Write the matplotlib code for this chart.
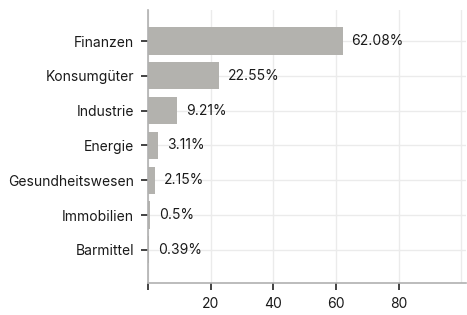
import matplotlib.pyplot as plt

# data
categories = ["Finanzen", "Konsumgüter", "Industrie", "Energie",
              "Gesundheitswesen", "Immobilien", "Barmittel"]
values = [62.08, 22.55, 9.21, 3.11, 2.15, 0.5, 0.39]
value_labels = ["62.08%", "22.55%", "9.21%", "3.11%", "2.15%", "0.5%", "0.39%"]
x_ticks = [0, 20, 40, 60, 80]
x_tick_labels = ["", "20", "40", "60", "80"]

plt.rcParams["font.family"] = ["Inter", "DejaVu Sans"]

fig = plt.figure(figsize=(4.67, 3.15), dpi=100)
ax = fig.add_axes([0.317, 0.102, 0.681, 0.866])

y = list(range(len(categories)))
ax.barh(y, values, height=0.78, color="#b3b2ae", zorder=2)

for yi, v, lab in zip(y, values, value_labels):
    ax.annotate(lab, (v, yi), xytext=(6.5, 0), textcoords="offset points",
                va="center", ha="left", fontsize=10, color="#1a1a1a")

ax.set_yticks(y)
ax.set_yticklabels(categories, fontsize=10, color="#1a1a1a")
ax.set_xticks(x_ticks)
ax.set_xticklabels(x_tick_labels, fontsize=10, color="#1a1a1a")
ax.set_xticks([100], minor=True)

ax.set_xlim(0, 101.5)
ax.set_ylim(6.95, -0.89)

ax.grid(True, which="both", color="#ebebeb", linewidth=1, zorder=0)
ax.tick_params(axis="x", which="minor", length=0)
ax.tick_params(axis="both", which="major", length=5, width=1.2,
               color="#222222", pad=5)

for side in ["top", "right"]:
    ax.spines[side].set_visible(False)
for side in ["left", "bottom"]:
    ax.spines[side].set_color("#b0b0b0")
    ax.spines[side].set_linewidth(1.2)

fig.savefig("out.png", dpi=100)
